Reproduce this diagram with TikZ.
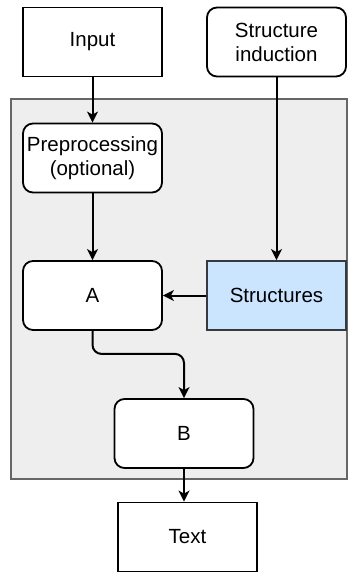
\documentclass[tikz,border=0pt]{standalone}
\usepackage{fontspec}
\setmainfont{Liberation Sans}
\usetikzlibrary{arrows.meta}
\definecolor{bggray}{HTML}{EEEEEE}
\definecolor{bgline}{HTML}{666666}
\definecolor{structblue}{HTML}{CCE5FF}
\definecolor{structline}{HTML}{36393D}
\tikzset{
  box/.style={draw,line width=1.8pt,minimum width=139pt,minimum height=69pt,
    align=center,inner sep=2pt,font=\fontsize{20.5}{24}\selectfont},
  rbox/.style={box,fill=white,rounded corners=10pt},
  arr/.style={-{Stealth[length=11pt,width=11pt,inset=3pt]},line width=2pt}
}

\begin{document}
\begin{tikzpicture}[x=1pt,y=-1pt]
      \useasboundingbox (0,0) rectangle (348,572);
      \path[fill=bggray,draw=bgline,line width=1.8pt] (11,99) rectangle (347,479);
      \node[box](input) at (92.5,42) {Input};
      \node[rbox](induct) at (276.5,42) {Structure\\induction};
      \node[rbox](prep) at (92.5,158) {Preprocessing\\(optional)};
      \node[rbox](A) at (92.5,295.5) {A};
      \node[box,fill=structblue,draw=structline](struct) at (276.5,295.5) {Structures};
      \node[rbox](B) at (184,433.5) {B};
      \node[box](text) at (187.5,537) {Text};
            \draw[arr] (input) -- (prep);
      \draw[arr] (prep) -- (A);
      \draw[arr] (induct) -- (struct);
      \draw[arr] (struct) -- (A);
      \draw[arr,rounded corners=9pt] (A.south) -- ++(0,23) -| (B.north);
      \draw[arr] (B.south) -- (B.south |- text.north);
    \end{tikzpicture}
\end{document}
